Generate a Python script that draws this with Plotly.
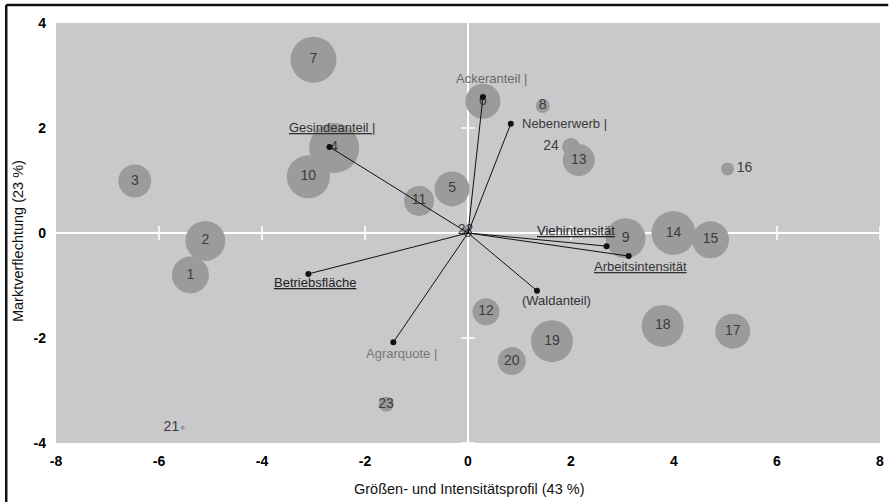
import plotly.graph_objects as go

# ---- data ----
region_ids = [str(i) for i in range(1, 25)]
region_x = [-5.39, -5.10, -6.47, -2.60, -0.31, 0.29, -3.00, 1.45, 3.06, -3.10, -0.95, 0.35,
            2.15, 3.99, 4.71, 5.04, 5.14, 3.78, 1.63, 0.85, -5.54, -0.05, -1.59, 2.00]
region_y = [-0.80, -0.15, 0.99, 1.62, 0.84, 2.51, 3.30, 2.42, -0.10, 1.07, 0.61, -1.50,
            1.39, 0.00, -0.13, 1.22, -1.87, -1.77, -2.06, -2.44, -3.71, 0.05, -3.26, 1.64]
region_size = [37, 40, 33, 50, 35, 35, 46, 14, 40, 43, 30, 27,
               32, 44, 37, 13, 35, 42, 42, 28, 4, 8, 15, 18]

var_names = ["Gesindeanteil |", "Ackeranteil |", "Nebenerwerb |", "Viehintensität",
             "Arbeitsintensität", "(Waldanteil)", "Agrarquote |", "Betriebsfläche"]
var_x = [-2.69, 0.29, 0.83, 2.69, 3.12, 1.34, -1.45, -3.10]
var_y = [1.64, 2.59, 2.08, -0.25, -0.44, -1.10, -2.08, -0.78]

x_title = "Größen- und Intensitätsprofil (43 %)"
y_title = "Marktverflechtung (23 %)"
x_ticks = [-8, -6, -4, -2, 0, 2, 4, 6, 8]
y_ticks = [-4, -2, 0, 2, 4]
x_tick_text = ["-8", "-6", "-4", "-2", "0", "2", "4", "6", "8"]
y_tick_text = ["-4", "-2", "0", "2", "4"]

# ---- styles ----
label_pos = {"16": "middle right", "21": "middle left", "24": "middle left"}
var_style = {
    "Gesindeanteil |": dict(xs=3, ys=19, color="#333333", u=True),
    "Ackeranteil |": dict(xs=9, ys=19, color="#6a6a6a", u=False),
    "Nebenerwerb |": dict(xs=54, ys=0, color="#3a3a3a", u=False),
    "Viehintensität": dict(xs=-31, ys=16, color="#222222", u=True),
    "Arbeitsintensität": dict(xs=12, ys=-10, color="#333333", u=True),
    "(Waldanteil)": dict(xs=19, ys=-10, color="#333333", u=False),
    "Agrarquote |": dict(xs=8, ys=-11, color="#777777", u=False),
    "Betriebsfläche": dict(xs=7, ys=-9, color="#222222", u=True),
}

FONT = "Liberation Sans, Arial, sans-serif"
NARROW = "Liberation Sans Narrow, Arial Narrow, Liberation Sans, Arial, sans-serif"

fig = go.Figure()

# white tick marks crossing the zero lines
xt = [t for t in x_ticks if t not in (0, -8)]
yt = [t for t in y_ticks if t not in (0, 4)]
fig.add_trace(go.Scatter(
    x=xt, y=[0] * len(xt), mode="markers",
    marker=dict(symbol="line-ns", size=10, line=dict(color="white", width=1.5)),
    hoverinfo="skip", showlegend=False))
fig.add_trace(go.Scatter(
    x=[0] * len(yt), y=yt, mode="markers",
    marker=dict(symbol="line-ew", size=10, line=dict(color="white", width=1.5)),
    hoverinfo="skip", showlegend=False))

# bubbles
fig.add_trace(go.Scatter(
    x=region_x, y=region_y, mode="markers+text",
    text=region_ids,
    textposition=[label_pos.get(r, "middle center") for r in region_ids],
    textfont=dict(family=NARROW, size=14, color="#3c3c3c"),
    marker=dict(size=region_size, sizemode="diameter", color="#9b9b9b",
                line=dict(width=0), opacity=1),
    showlegend=False))

# vectors
for name, vx, vy in zip(var_names, var_x, var_y):
    fig.add_trace(go.Scatter(
        x=[0, vx], y=[0, vy], mode="lines",
        line=dict(color="#111111", width=1), showlegend=False, hoverinfo="skip"))
fig.add_trace(go.Scatter(
    x=var_x, y=var_y, mode="markers",
    marker=dict(size=6, color="#111111"), showlegend=False))
fig.add_trace(go.Scatter(
    x=[0], y=[0], mode="markers",
    marker=dict(size=7, color="rgba(0,0,0,0)", line=dict(color="#222222", width=1)),
    showlegend=False, hoverinfo="skip"))

annotations = []
for name, vx, vy in zip(var_names, var_x, var_y):
    st = var_style[name]
    txt = f"<u>{name}</u>" if st["u"] else name
    annotations.append(dict(
        x=vx, y=vy, xref="x", yref="y", text=txt, showarrow=False,
        xshift=st["xs"], yshift=st["ys"], xanchor="center", yanchor="middle",
        font=dict(family=FONT, size=13, color=st["color"])))

annotations.append(dict(
    x=0.502, y=-0.1095, xref="paper", yref="paper", text=x_title, showarrow=False,
    xanchor="center", yanchor="middle", font=dict(family=FONT, size=14.5, color="#111111")))
annotations.append(dict(
    x=-0.046, y=0.481, xref="paper", yref="paper", text=y_title, showarrow=False,
    textangle=-90, xanchor="center", yanchor="middle",
    font=dict(family=FONT, size=14.5, color="#111111")))

shapes = [
    dict(type="line", xref="paper", yref="paper", x0=-0.0604, x1=1.01, y0=1.0429, y1=1.0429,
         line=dict(color="#111111", width=2.5)),
    dict(type="line", xref="paper", yref="paper", x0=-0.0604, x1=-0.0604, y0=-0.15, y1=1.0429,
         line=dict(color="#111111", width=2.5)),
]

fig.update_layout(
    width=890, height=502,
    margin=dict(l=56, r=6, t=23, b=59),
    paper_bgcolor="white", plot_bgcolor="#c9c9cb",
    annotations=annotations, shapes=shapes,
    showlegend=False,
    xaxis=dict(range=[-8, 8], tickvals=x_ticks, ticktext=x_tick_text, showgrid=False,
               zeroline=True, zerolinecolor="white", zerolinewidth=2, showline=False, ticks="",
               tickfont=dict(family=NARROW, size=14, color="black", weight="bold"),
               ticklabelstandoff=8, fixedrange=True),
    yaxis=dict(range=[-4, 4], tickvals=y_ticks, ticktext=y_tick_text, showgrid=False,
               zeroline=True, zerolinecolor="white", zerolinewidth=2, showline=False, ticks="",
               tickfont=dict(family=NARROW, size=14, color="black", weight="bold"),
               ticklabelstandoff=9, fixedrange=True),
)

fig.write_html("out.html", config={"displayModeBar": False},
               post_script="document.body.style.margin='0';")
